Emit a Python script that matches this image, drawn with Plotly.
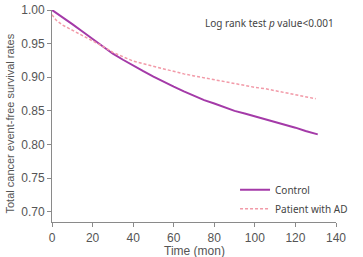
import plotly.graph_objects as go

# Time (months)
control_t = [0, 5, 10, 15, 20, 25, 30, 35, 40, 45, 50, 55, 60, 65, 70, 75, 80, 85, 90, 95, 100, 105, 110, 115, 120, 125, 131]
control_s = [1.000, 0.990, 0.979, 0.968, 0.957, 0.945, 0.935, 0.926, 0.917, 0.909, 0.901, 0.893, 0.886, 0.879, 0.872, 0.866, 0.861, 0.855, 0.850, 0.846, 0.842, 0.837, 0.833, 0.829, 0.825, 0.820, 0.815]

ad_t = [0, 2, 5, 10, 15, 20, 25, 30, 35, 40, 45, 50, 55, 60, 65, 70, 75, 80, 85, 90, 95, 100, 105, 110, 115, 120, 125, 130]
ad_s = [0.993, 0.985, 0.978, 0.970, 0.963, 0.955, 0.946, 0.937, 0.930, 0.924, 0.920, 0.916, 0.912, 0.908, 0.905, 0.902, 0.899, 0.896, 0.893, 0.890, 0.888, 0.885, 0.883, 0.880, 0.877, 0.874, 0.871, 0.868]

x_ticks = [0, 20, 40, 60, 80, 100, 120, 140]
y_ticks = [0.70, 0.75, 0.80, 0.85, 0.90, 0.95, 1.00]

fig = go.Figure()
fig.add_trace(go.Scatter(x=control_t, y=control_s, mode="lines", name="Control",
                         line=dict(color="#a43aa8", width=2)))
fig.add_trace(go.Scatter(x=ad_t, y=ad_s, mode="lines", name="Patient with AD",
                         line=dict(color="#f29aa8", width=1.5, dash="3px,2px")))

axis_common = dict(showgrid=False, zeroline=False, showline=True, linecolor="#8a8a8a", linewidth=1,
                   ticks="outside", ticklen=4, tickcolor="#8a8a8a", automargin=False,
                   tickfont=dict(family="Arial", size=12, color="#555555"))

fig.update_layout(
    width=363, height=257,
    margin=dict(l=52, r=15, t=10, b=35),
    paper_bgcolor="white", plot_bgcolor="white",
    showlegend=True,
    legend=dict(x=1.06, xanchor="right", y=0.22, yanchor="top", bgcolor="rgba(0,0,0,0)",
                font=dict(family="Noto Sans, Open Sans", size=10, color="#444444"),
                tracegroupgap=0, itemwidth=30),
    xaxis=dict(range=[0, 140], tickvals=x_ticks, ticktext=[str(v) for v in x_ticks],
               ticklabelstandoff=1, **axis_common),
    yaxis=dict(range=[0.6847, 1.0], tickvals=y_ticks, ticktext=[f"{v:.2f}" for v in y_ticks],
               **axis_common),
    annotations=[
        dict(text="Log rank test <i>p</i> value<0.001", xref="paper", yref="paper", x=1.0, y=0.94,
             xanchor="right", yanchor="middle", showarrow=False,
             font=dict(family="Noto Sans, Open Sans", size=10, color="#444444")),
        dict(text="Total cancer event-free survival rates", xref="paper", yref="paper",
             x=-0.149, y=0.463, xanchor="center", yanchor="middle", textangle=-90, showarrow=False,
             font=dict(family="Arial", size=11, color="#555555")),
        dict(text="Time (mon)", xref="paper", yref="paper",
             x=0.5, y=-0.135, xanchor="center", yanchor="middle", showarrow=False,
             font=dict(family="Arial", size=12, color="#555555")),
    ],
)

fig.write_html("out.html")
